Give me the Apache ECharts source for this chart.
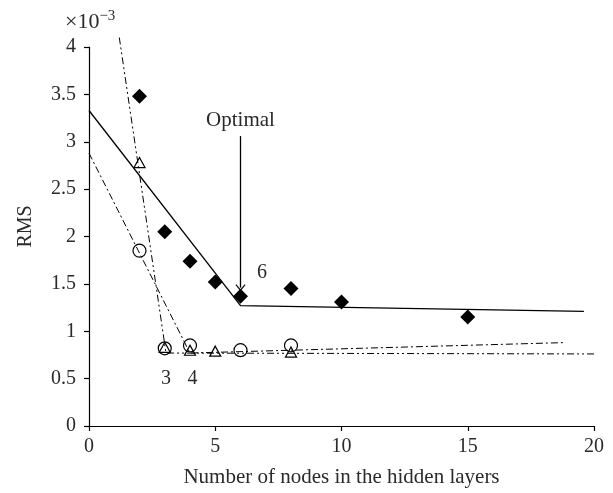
<!DOCTYPE html>
<html><head><meta charset="utf-8">
<script src="https://cdn.jsdelivr.net/npm/echarts@6/dist/echarts.min.js"></script>
<style>html,body{margin:0;padding:0;background:#fff}#c{width:613px;height:493px}</style>
</head><body><div id="c"></div>
<script>
// measured data (RMS in units of 1e-3)
const diamondX = [2, 3, 4, 5, 6, 8, 10, 15];
const diamondY = [3.48, 2.05, 1.74, 1.52, 1.37, 1.45, 1.31, 1.15];
const triangleX = [2, 3, 4, 5, 8];
const triangleY = [2.78, 0.83, 0.80, 0.79, 0.78];
const circleX = [2, 3, 4, 6, 8];
const circleY = [1.85, 0.82, 0.85, 0.80, 0.85];
// fitted trend lines
const solidFitX = [0, 6, 19.6];
const solidFitY = [3.33, 1.27, 1.21];
const circleFitX = [0, 4.0, 18.8];
const circleFitY = [2.88, 0.77, 0.88];
const triangleFitX = [1.2, 3.05, 20.7];
const triangleFitY = [4.1, 0.77, 0.76];
const xTicks = [0, 5, 10, 15, 20];
const yTicks = [0, 0.5, 1, 1.5, 2, 2.5, 3, 3.5, 4];
const optimalArrow = {x: 6, yStart: 3.06, yEnd: 1.46};
const notes = [
  {text: '6', x: 6.85, y: 1.62},
  {text: '3', x: 3.05, y: 0.5},
  {text: '4', x: 4.1, y: 0.5}
];

const zip = (a, b) => a.map((v, i) => [v, b[i]]);
const FONT = 'Liberation Serif';
const TXT = '#2a2a2a';
const FS = 20;

const chart = echarts.init(document.getElementById('c'), null, {renderer: 'canvas'});
chart.setOption({
  animation: false,
  backgroundColor: '#fff',
  title: {
    text: '×10{s|−3}',
    left: 60, top: 4,
    textStyle: {fontFamily: FONT, fontSize: 22, color: TXT, fontWeight: 'normal',
      rich: {s: {fontFamily: FONT, fontSize: 15, color: TXT, verticalAlign: 'top', padding: [0,0,11,0]}}}
  },
  grid: {left: 89, right: 19, top: 47, bottom: 66},
  xAxis: {
    type: 'value', min: xTicks[0], max: xTicks[xTicks.length-1], interval: 5,
    name: 'Number of nodes in the hidden layers', nameLocation: 'middle', nameGap: 41,
    nameTextStyle: {fontFamily: FONT, fontSize: 21, color: TXT},
    axisLine: {lineStyle: {color: '#000', width: 1.2}},
    axisTick: {show: true, length: 5, lineStyle: {color: '#000', width: 1.2}},
    axisLabel: {fontFamily: FONT, fontSize: FS, color: TXT, margin: 11},
    splitLine: {show: false}
  },
  yAxis: {
    type: 'value', min: yTicks[0], max: yTicks[yTicks.length-1], interval: 0.5,
    name: 'RMS', nameLocation: 'middle', nameGap: 53,
    nameTextStyle: {fontFamily: FONT, fontSize: FS, color: TXT, padding: [0, 0, 0, 20]},
    axisLine: {show: true, lineStyle: {color: '#000', width: 1.2}},
    axisTick: {show: true, length: 5, lineStyle: {color: '#000', width: 1.2}},
    axisLabel: {fontFamily: FONT, fontSize: FS, color: TXT, margin: 13},
    splitLine: {show: false}
  },
  series: [
    {type: 'line', data: zip(solidFitX, solidFitY), symbol: 'none', clip: false,
     lineStyle: {color: '#000', width: 1.3}, z: 1,
     markLine: {
       silent: true, symbol: ['none', 'path://M6,0 L12,7 L11,8 L6,2.2 L1,8 L0,7 Z'], symbolSize: [10, 7],
       lineStyle: {color: '#000', width: 1.3, type: 'solid'},
       label: {show: true, position: 'start', formatter: 'Optimal', fontFamily: FONT, fontSize: 21, color: TXT, distance: 5},
       data: [[{coord: [optimalArrow.x, optimalArrow.yStart]}, {coord: [optimalArrow.x, optimalArrow.yEnd]}]]
     }},
    {type: 'line', data: zip(circleFitX, circleFitY), symbol: 'none', clip: false,
     lineStyle: {color: '#000', width: 1, type: [7, 3, 2, 3]}, z: 1},
    {type: 'line', data: zip(triangleFitX, triangleFitY), symbol: 'none', clip: false,
     lineStyle: {color: '#000', width: 1, type: [7, 3, 2, 3, 2, 3]}, z: 1},
    {type: 'scatter', data: zip(diamondX, diamondY), symbol: 'diamond', symbolSize: 15,
     itemStyle: {color: '#000', opacity: 1}, z: 3},
    {type: 'scatter', data: zip(circleX, circleY), symbol: 'circle', symbolSize: 13,
     itemStyle: {color: 'rgba(255,255,255,0)', borderColor: '#000', borderWidth: 1.2, opacity: 1}, z: 3},
    {type: 'scatter', data: zip(triangleX, triangleY), symbol: 'triangle', symbolSize: [11, 10],
     itemStyle: {color: 'rgba(255,255,255,0)', borderColor: '#000', borderWidth: 1.2, opacity: 1}, z: 3},
    {type: 'scatter', data: notes.map(n => ({name: n.text, value: [n.x, n.y]})),
     symbol: 'circle', symbolSize: 1, silent: true, z: 4,
     itemStyle: {color: 'rgba(0,0,0,0)', opacity: 1},
     label: {show: true, position: 'inside', fontFamily: FONT, fontSize: FS, color: TXT, opacity: 1, formatter: p => p.name}}
  ]
});
</script></body></html>
